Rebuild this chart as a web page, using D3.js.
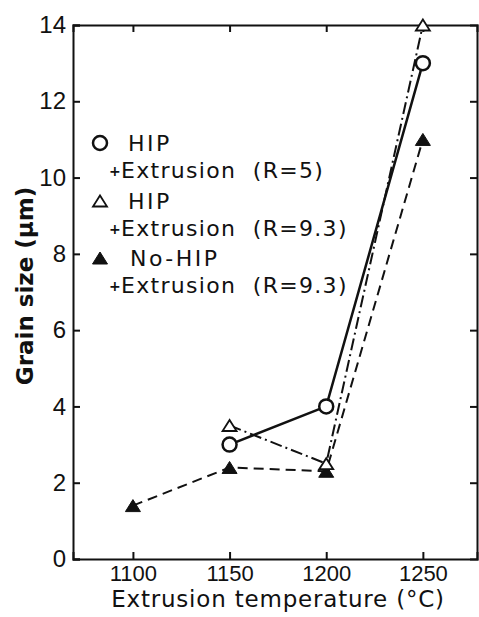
<!DOCTYPE html>
<html>
<head>
<meta charset="utf-8">
<script src="https://cdn.jsdelivr.net/npm/d3@7"></script>
<style>
    body { margin: 0; background: #fff; }
    text { fill: #111; }
</style>
</head>
<body>
<svg id="chart" width="479" height="617"></svg>
<script>
    // Data
    const hipR5_temp = [1150, 1200, 1250];
    const hipR5_grain = [3.0, 4.0, 13.0];
    const hipR93_temp = [1150, 1200, 1250];
    const hipR93_grain = [3.5, 2.5, 14.0];
    const noHipR93_temp = [1100, 1150, 1200, 1250];
    const noHipR93_grain = [1.4, 2.4, 2.3, 11.0];

    const xTicks = [1100, 1150, 1200, 1250];
    const yTicks = [0, 2, 4, 6, 8, 10, 12, 14];

    const legendLabels = [
        ["HIP", "Extrusion  (R=5)"],
        ["HIP", "Extrusion  (R=9.3)"],
        ["No-HIP", "Extrusion  (R=9.3)"],
    ];

    const margin = { top: 25, right: 2, bottom: 58, left: 73 };
    const width = 479 - margin.left - margin.right;
    const height = 617 - margin.top - margin.bottom;

    const svg = d3.select("#chart");
    const g = svg.append("g").attr("transform", `translate(${margin.left},${margin.top})`);

    const x = d3.scaleLinear().domain([1069, 1278]).range([0, width]);
    const y = d3.scaleLinear().domain([0, 14]).range([height, 0]);

    const tickFont = "'Liberation Sans', Arial, sans-serif";
    const labelFont = "'DejaVu Sans', sans-serif";

    // axes, ticks pointing inward
    const xAxis = d3.axisBottom(x).tickValues(xTicks).tickSize(-7).tickPadding(6).tickFormat(d3.format("d"));
    const yAxis = d3.axisLeft(y).tickValues(yTicks).tickSize(-7).tickPadding(7).tickFormat(d3.format("d"));
    const xTop = d3.axisTop(x).tickValues(xTicks).tickSize(-7).tickFormat("");
    const yRight = d3.axisRight(y).tickValues(yTicks.slice(1, -1)).tickSize(-7).tickFormat("");

    function styleAxis(sel, size) {
        sel.select(".domain").attr("stroke", "#111").attr("stroke-width", 2);
        sel.selectAll(".tick line").attr("stroke", "#111").attr("stroke-width", 2);
        sel.selectAll(".tick text")
            .attr("fill", "#111")
            .style("font-family", tickFont)
            .style("font-size", size + "px");
    }

    g.append("g").attr("transform", `translate(0,${height})`).call(xAxis).call(styleAxis, 22);
    g.append("g").call(yAxis).call(styleAxis, 24);
    g.append("g").call(xTop).call(styleAxis, 22);
    g.append("g").attr("transform", `translate(${width},0)`).call(yRight).call(styleAxis, 22);

    // axis titles
    svg.append("text")
        .attr("x", margin.left + width / 2 + 3)
        .attr("y", 607)
        .attr("text-anchor", "middle")
        .style("font-family", labelFont)
        .style("font-size", "23px")
        .style("letter-spacing", "0.8px")
        .text("Extrusion temperature (°C)");

    svg.append("text")
        .attr("transform", "translate(33,286) rotate(-90)")
        .attr("text-anchor", "middle")
        .style("font-family", labelFont)
        .style("font-size", "23px")
        .style("font-weight", "bold")
        .text("Grain size (\u03bcm)");

    // markers
    function triPath(cx, cy, w, h) {
        return `M${cx - w / 2},${cy + h / 2}L${cx + w / 2},${cy + h / 2}L${cx},${cy - h / 2}Z`;
    }

    function drawMarker(sel, kind, cx, cy) {
        if (kind === "circle") {
            sel.append("circle").attr("cx", cx).attr("cy", cy).attr("r", 7)
                .attr("fill", "#fff").attr("stroke", "#111").attr("stroke-width", 2.5);
        } else if (kind === "open") {
            sel.append("path").attr("d", triPath(cx, cy, 14, 11))
                .attr("fill", "#fff").attr("stroke", "#111").attr("stroke-width", 1.8);
        } else {
            sel.append("path").attr("d", triPath(cx, cy, 15, 12))
                .attr("fill", "#111").attr("stroke", "#111").attr("stroke-width", 1);
        }
    }

    const series = [
        { temp: noHipR93_temp, grain: noHipR93_grain, kind: "filled", dash: "10,6", sw: 2 },
        { temp: hipR93_temp, grain: hipR93_grain, kind: "open", dash: "12,4,2,4", sw: 2 },
        { temp: hipR5_temp, grain: hipR5_grain, kind: "circle", dash: null, sw: 2.5 },
    ];

    const line = d3.line().x((d) => x(d[0])).y((d) => y(d[1]));

    series.forEach((s) => {
        const pts = s.temp.map((t, i) => [t, s.grain[i]]);
        g.append("path")
            .attr("d", line(pts))
            .attr("fill", "none")
            .attr("stroke", "#111")
            .attr("stroke-width", s.sw)
            .attr("stroke-dasharray", s.dash);
    });

    series.forEach((s) => {
        s.temp.forEach((t, i) => drawMarker(g, s.kind, x(t), y(s.grain[i])));
    });

    // legend
    const legendKinds = ["circle", "open", "filled"];
    const legendTop = [151, 209, 266];
    const legendSub = [178, 236, 293];
    const legend = svg.append("g");
    legendKinds.forEach((kind, i) => {
        drawMarker(legend, kind, 100, legendTop[i] - 8);
        legend.append("text")
            .attr("x", i === 2 ? 130 : 128)
            .attr("y", legendTop[i])
            .style("font-family", labelFont)
            .style("font-size", "22px")
            .style("letter-spacing", "2.5px")
            .text(legendLabels[i][0]);
        legend.append("text")
            .attr("x", 109)
            .attr("y", legendSub[i] - 2)
            .style("font-family", labelFont)
            .style("font-size", "14px")
            .style("font-weight", "bold")
            .text("+");
        legend.append("text")
            .attr("x", 121)
            .attr("y", legendSub[i])
            .attr("xml:space", "preserve")
            .style("white-space", "pre")
            .style("font-family", labelFont)
            .style("font-size", "22px")
            .style("letter-spacing", "1.3px")
            .text(legendLabels[i][1]);
    });
</script>
</body>
</html>
